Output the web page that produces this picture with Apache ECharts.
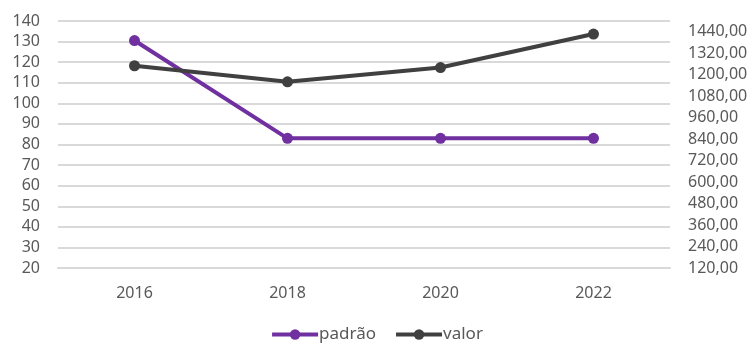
<!DOCTYPE html>
<html>
<head>
<meta charset="utf-8">
<script src="https://cdn.jsdelivr.net/npm/echarts@6/dist/echarts.min.js"></script>
<style>
html,body{margin:0;padding:0;background:#fff;}
#chart{width:753px;height:345px;}
</style>
</head>
<body>
<div id="chart"></div>
<script>
var anos = ['2016', '2018', '2020', '2022'];
var padrao = [130.5, 83, 83, 83];
var valor = [1250, 1160, 1240, 1427];

var myChart = echarts.init(document.getElementById('chart'));
var fonte = '"Noto Sans", sans-serif';
var option = {
	animation: false,
	color: ['#7030a0', '#404040'],
	grid: {
		left: 58,
		right: 83,
		top: 21,
		bottom: 77
	},
	legend: {
		bottom: -3,
		left: 'center',
		itemWidth: 46,
		itemHeight: 13,
		itemGap: 18,
		lineStyle: {width: 4},
		textStyle: {color: '#595959', fontSize: 17, fontFamily: fonte, padding: [0, 0, 0, -4]},
		data: ['padrão', 'valor']
	},
	xAxis: {
		type: 'category',
		data: anos,
		axisLine: {lineStyle: {color: '#d9d9d9', width: 2}},
		axisTick: {show: false},
		axisLabel: {color: '#595959', fontSize: 16, fontFamily: fonte, margin: 17}
	},
	yAxis: [{
		type: 'value',
		min: 20,
		max: 140,
		interval: 10,
		axisLine: {show: false},
		axisTick: {show: false},
		splitLine: {lineStyle: {color: '#d9d9d9', width: 2}},
		axisLabel: {color: '#595959', fontSize: 16, fontFamily: fonte, margin: 18}
	}, {
		type: 'value',
		min: 120,
		max: 1500,
		interval: 120,
		axisLine: {show: false},
		axisTick: {show: false},
		splitLine: {show: false},
		axisLabel: {
			color: '#595959', fontSize: 16, fontFamily: fonte, margin: 18,
			showMaxLabel: false,
			formatter: function(v){ return v.toFixed(2).replace('.', ','); }
		}
	}],
	series: [{
		name: 'padrão',
		type: 'line',
		yAxisIndex: 0,
		data: padrao,
		symbol: 'circle',
		symbolSize: 11,
		lineStyle: {width: 4}
	}, {
		name: 'valor',
		type: 'line',
		yAxisIndex: 1,
		data: valor,
		symbol: 'circle',
		symbolSize: 11,
		lineStyle: {width: 4}
	}]
};
myChart.setOption(option);
</script>
</body>
</html>
